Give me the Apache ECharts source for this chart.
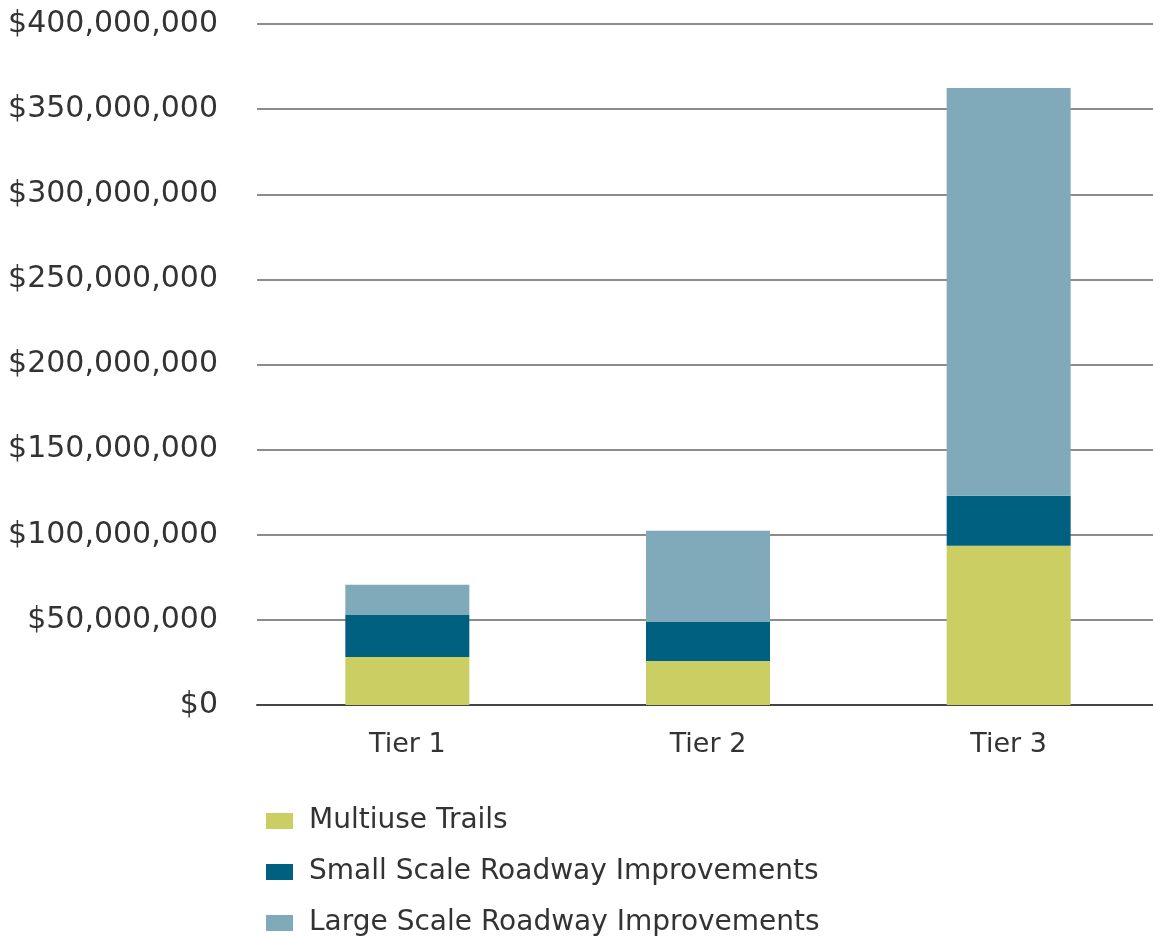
<!DOCTYPE html>
<html>
<head>
<meta charset="utf-8">
<script src="https://cdn.jsdelivr.net/npm/echarts@6/dist/echarts.min.js"></script>
<style>
    html, body { margin: 0; padding: 0; background: #fff; }
    #chart { width: 1153px; height: 938px; }
</style>
</head>
<body>
<div id="chart"></div>
<script>
    // categories and values (in dollars)
    var categories = ['Tier 1', 'Tier 2', 'Tier 3'];
    var seriesNames = ['Multiuse Trails', 'Small Scale Roadway Improvements', 'Large Scale Roadway Improvements'];
    var multiuseTrails = [28200000, 25900000, 93500000];
    var smallScale = [24700000, 22900000, 29400000];
    var largeScale = [17700000, 53600000, 239500000];
    var yTicks = [0, 50000000, 100000000, 150000000, 200000000, 250000000, 300000000, 350000000, 400000000];

    var colors = ['#cbce62', '#006080', '#80a9b9'];
    var font = '"DejaVu Sans", "Noto Sans", sans-serif';

    function money(v) {
        return '$' + String(v).replace(/\B(?=(\d{3})+(?!\d))/g, ',');
    }

    var myChart = echarts.init(document.getElementById('chart'));

    myChart.setOption({
        animation: false,
        color: colors,
        textStyle: {fontFamily: font},
        grid: {
            left: 257,
            width: 902,
            top: 24,
            bottom: 233,
            containLabel: false,
            outerBoundsMode: 'none'
        },
        legend: {
            orient: 'vertical',
            left: 266,
            top: 807,
            padding: 0,
            itemWidth: 27,
            itemHeight: 16,
            itemGap: 23,
            icon: 'rect',
            data: seriesNames,
            textStyle: {
                fontFamily: font,
                fontSize: 28,
                color: '#333',
                lineHeight: 28,
                padding: [0, 0, 0, 11]
            }
        },
        xAxis: {
            type: 'category',
            data: categories,
            axisTick: {show: false},
            axisLine: {lineStyle: {color: '#444', width: 2}},
            axisLabel: {
                fontFamily: font,
                fontSize: 27,
                color: '#333',
                margin: 26
            }
        },
        yAxis: {
            type: 'value',
            min: yTicks[0],
            max: yTicks[yTicks.length - 1],
            interval: 50000000,
            axisLine: {show: false},
            axisTick: {show: false},
            splitLine: {lineStyle: {color: '#666', width: 1.5}},
            axisLabel: {
                fontFamily: font,
                fontSize: 30,
                color: '#333',
                margin: 39,
                formatter: function (v) { return money(v); }
            }
        },
        series: [
            {name: seriesNames[0], type: 'bar', stack: 'total', barWidth: 124, data: multiuseTrails},
            {name: seriesNames[1], type: 'bar', stack: 'total', barWidth: 124, data: smallScale},
            {name: seriesNames[2], type: 'bar', stack: 'total', barWidth: 124, data: largeScale}
        ]
    });
</script>
</body>
</html>
